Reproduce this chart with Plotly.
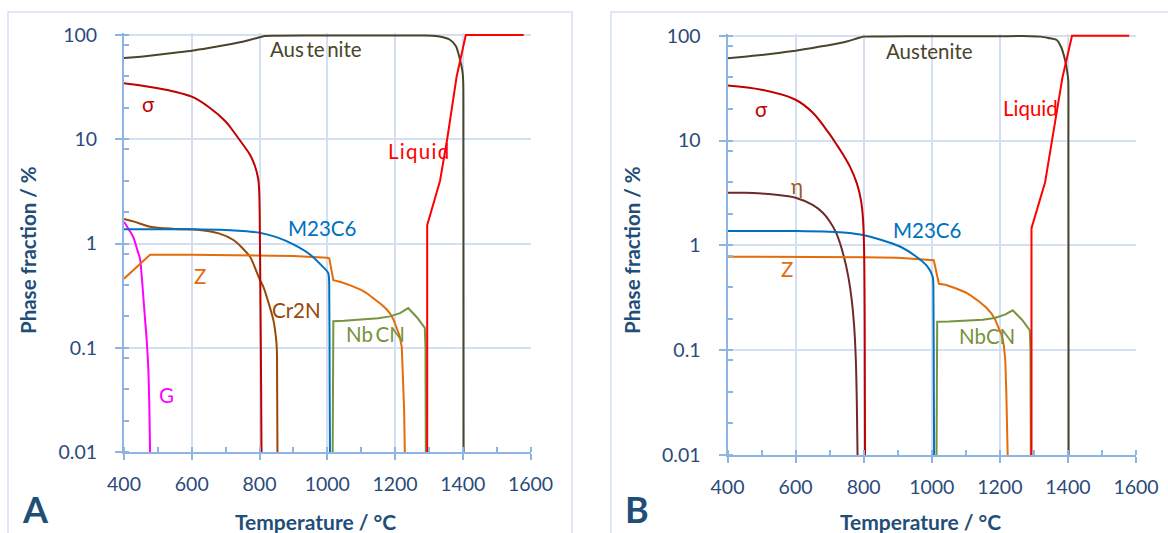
import plotly.graph_objects as go

# ---------------- data (Temperature °C, phase fraction %) ----------------
# Panel A
A_aus_T = [400, 450, 500, 550, 600, 650, 700, 750, 790, 815, 850, 1000, 1200, 1290, 1320, 1342, 1362, 1380, 1392, 1399, 1401.5, 1402, 1402.5]
A_aus_V = [60, 62, 64.5, 67.5, 70.7, 75, 80, 86, 93, 98, 98.5, 99, 99, 99, 98, 95, 90, 78, 58, 45, 35, 10, 0.01]
A_sig_T = [400, 450, 500, 550, 600, 650, 700, 722, 750, 772, 786, 796, 799, 800.5, 802, 804, 806]
A_sig_V = [34.4, 32.8, 30.9, 28.6, 25.6, 20.4, 14.8, 12.0, 9.0, 7.1, 5.6, 4.2, 3.2, 2.0, 0.6, 0.1, 0.01]
A_liq_T = [1295, 1295, 1333, 1354, 1382, 1409, 1580]
A_liq_V = [0.01, 1.5, 4.0, 10, 40, 100, 100]
A_m23_T = [400, 600, 700, 750, 800, 850, 900, 950, 980, 1003, 1006, 1007, 1008]
A_m23_V = [1.37, 1.37, 1.35, 1.32, 1.27, 1.15, 0.98, 0.78, 0.63, 0.52, 0.3, 0.05, 0.01]
A_z_T = [400, 477, 600, 800, 900, 1000, 1006, 1018, 1040, 1070, 1100, 1116, 1140, 1160, 1175, 1185, 1195, 1205, 1213, 1220, 1224, 1227, 1229]
A_z_V = [0.46, 0.78, 0.78, 0.77, 0.76, 0.73, 0.72, 0.445, 0.427, 0.394, 0.359, 0.335, 0.295, 0.26, 0.234, 0.214, 0.188, 0.158, 0.132, 0.102, 0.05, 0.025, 0.01]
A_nb_T = [1016, 1017, 1018, 1050, 1100, 1150, 1185, 1215, 1239, 1265, 1288, 1290, 1291]
A_nb_V = [0.01, 0.1, 0.18, 0.182, 0.187, 0.192, 0.2, 0.215, 0.24, 0.195, 0.155, 0.1, 0.01]
A_cr_T = [400, 430, 477, 550, 624, 680, 723, 750, 772, 790, 801, 812, 821, 841, 848, 851, 852, 853]
A_cr_V = [1.72, 1.62, 1.45, 1.38, 1.35, 1.25, 1.08, 0.9, 0.745, 0.55, 0.45, 0.38, 0.31, 0.184, 0.13, 0.1, 0.05, 0.01]
A_g_T = [400, 415, 427, 440, 447, 452, 457, 462, 467, 472, 475, 477]
A_g_V = [1.62, 1.35, 1.16, 0.85, 0.72, 0.5, 0.31, 0.19, 0.118, 0.06, 0.025, 0.01]

# Panel B
B_aus_T = [400, 450, 500, 550, 600, 650, 700, 750, 780, 800, 850, 1000, 1200, 1290, 1320, 1342, 1367, 1380, 1391.5, 1398, 1401, 1401.5, 1402]
B_aus_V = [60.8, 63, 65.5, 68.5, 72, 76.5, 81.5, 88, 94, 98, 98.5, 99, 99, 99, 98, 95, 91, 78, 58.7, 45, 37.7, 10, 0.01]
B_sig_T = [400, 500, 600, 650, 700, 720, 740, 760, 780, 792, 798, 801, 803, 804]
B_sig_V = [33.5, 30.5, 24.5, 18.5, 11.5, 9.2, 7.3, 5.6, 3.9, 2.7, 1.8, 1.0, 0.2, 0.01]
B_eta_T = [400, 450, 500, 550, 600, 650, 680, 700, 720, 742, 755, 765, 772, 777, 780, 782]
B_eta_V = [3.18, 3.17, 3.12, 3.02, 2.85, 2.43, 2.05, 1.7, 1.3, 0.78, 0.5, 0.3, 0.17, 0.08, 0.03, 0.01]
B_liq_T = [1293, 1293, 1333, 1354, 1384, 1412, 1580]
B_liq_V = [0.01, 1.46, 4.0, 10, 40, 100, 100]
B_m23_T = [400, 600, 700, 750, 801, 850, 908, 950, 987, 1003, 1005, 1006, 1007]
B_m23_V = [1.37, 1.37, 1.35, 1.32, 1.25, 1.13, 0.97, 0.8, 0.63, 0.5, 0.3, 0.05, 0.01]
B_z_T = [400, 600, 800, 900, 1000, 1006, 1021, 1040, 1070, 1100, 1116, 1140, 1160, 1175, 1185, 1195, 1205, 1212, 1216, 1219, 1221, 1223]
B_z_V = [0.78, 0.78, 0.77, 0.76, 0.73, 0.72, 0.43, 0.42, 0.39, 0.355, 0.33, 0.29, 0.255, 0.225, 0.2, 0.17, 0.14, 0.11, 0.08, 0.04, 0.02, 0.01]
B_nb_T = [1014, 1015, 1016, 1050, 1100, 1150, 1185, 1215, 1238, 1265, 1288, 1290, 1291]
B_nb_V = [0.01, 0.1, 0.187, 0.188, 0.19, 0.195, 0.203, 0.218, 0.24, 0.195, 0.155, 0.1, 0.01]

x_ticks = [400, 600, 800, 1000, 1200, 1400, 1600]
x_minor = [400, 500, 600, 700, 800, 900, 1000, 1100, 1200, 1300, 1400, 1500, 1600]
y_ticks = [0.01, 0.1, 1, 10, 100]
y_ticktext = ["0.01", "0.1", "1", "10", "100"]
y_minor = [0.01, 0.02, 0.04, 0.08, 0.1, 0.2, 0.4, 0.8, 1, 2, 4, 8, 10, 20, 40, 80, 100]

C = dict(aus="#4A452A", sig="#C00000", liq="#FF0000", m23="#0070C0", z="#E46C0A",
         nb="#77933C", cr="#984807", g="#FF00FF", eta="#6E2A28")

W, H = 1168, 533
fig = go.Figure()

def add(xs, ys, col, ax, smooth=0):
    ln = dict(color=col, width=2)
    if smooth:
        ln.update(shape="spline", smoothing=smooth)
    fig.add_trace(go.Scatter(x=xs, y=ys, mode="lines", line=ln,
                             xaxis="x" if ax == 1 else "x2", yaxis="y" if ax == 1 else "y2",
                             showlegend=False, hoverinfo="skip"))

add(A_aus_T, A_aus_V, C["aus"], 1, 0.6)
add(A_g_T, A_g_V, C["g"], 1, 1.0)
add(A_cr_T, A_cr_V, C["cr"], 1, 1.0)
add(A_z_T, A_z_V, C["z"], 1)
add(A_m23_T, A_m23_V, C["m23"], 1, 0.6)
add(A_nb_T, A_nb_V, C["nb"], 1)
add(A_sig_T, A_sig_V, C["sig"], 1, 1.0)
add(A_liq_T, A_liq_V, C["liq"], 1)

add(B_aus_T, B_aus_V, C["aus"], 2, 0.6)
add(B_eta_T, B_eta_V, C["eta"], 2, 1.0)
add(B_z_T, B_z_V, C["z"], 2)
add(B_m23_T, B_m23_V, C["m23"], 2, 0.6)
add(B_nb_T, B_nb_V, C["nb"], 2)
add(B_sig_T, B_sig_V, C["sig"], 2, 1.0)
add(B_liq_T, B_liq_V, C["liq"], 2)

AXC = "#8EB4E3"
GRIDC = "#D3E0F1"
TICKC = "#2B4A7B"
FONT = "Lato"

def xax(dom):
    return dict(domain=dom, range=[400, 1600], tickvals=x_ticks, ticks="outside", ticklen=6,
                tickcolor=AXC, tickwidth=2, showline=True, linecolor=AXC, linewidth=2,
                showgrid=True, gridcolor=GRIDC, gridwidth=1.5, zeroline=False, automargin=False,
                tickfont=dict(family=FONT, size=19.5, color=TICKC), ticklabelstandoff=8,
                minor=dict(tickvals=x_minor, ticks="inside", ticklen=5, tickcolor=AXC, tickwidth=1.5, showgrid=False))

def yax(dom, top_extra):
    return dict(domain=dom, type="log", range=[-2, 2 + top_extra], tickvals=y_ticks, ticktext=y_ticktext,
                ticks="outside", ticklen=7, tickcolor=AXC, tickwidth=2, showline=True, linecolor=AXC,
                linewidth=2, showgrid=True, gridcolor=GRIDC, gridwidth=1.5, zeroline=False, automargin=False,
                tickfont=dict(family=FONT, size=19.5, color=TICKC), ticklabelstandoff=14,
                minor=dict(tickvals=y_minor, ticks="inside", ticklen=5, tickcolor=AXC, tickwidth=1.5, showgrid=False))

ext = 0.02
# Panel A: x 124..530.5 px, y 35(100)..452(0.01)
a_dec = (452 - 35) / 4.0
a_top = 35 - ext * a_dec
# Panel B: x 727.5..1136 px, y 35.7..455
b_dec = (455 - 35.7) / 4.0
b_top = 35.7 - ext * b_dec

fig.update_layout(
    width=W, height=H, margin=dict(l=0, r=0, t=0, b=0, pad=0, autoexpand=False),
    paper_bgcolor="white", plot_bgcolor="white",
    xaxis=dict(xax([124 / W, 530.5 / W]), anchor="y"),
    yaxis=dict(yax([1 - 452 / H, 1 - a_top / H], ext), anchor="x"),
    xaxis2=dict(xax([727.5 / W, 1136 / W]), anchor="y2"),
    yaxis2=dict(yax([1 - 455 / H, 1 - b_top / H], ext), anchor="x2"),
)

# panel frames
BORD = "#D5E1F1"
fig.add_shape(type="rect", xref="paper", yref="paper", x0=8 / W, x1=572 / W, y0=-0.05, y1=1 - 12 / H,
              line=dict(color=BORD, width=1.5), layer="below")
fig.add_shape(type="rect", xref="paper", yref="paper", x0=611 / W, x1=1.05, y0=-0.05, y1=1 - 12 / H,
              line=dict(color=BORD, width=1.5), layer="below")

def lab(text, px, py, col, size=20.5, bold=False, angle=0, fam=FONT):
    fig.add_annotation(text=("<b>%s</b>" % text) if bold else text, x=px / W, y=1 - py / H,
                       xref="paper", yref="paper", showarrow=False, textangle=angle,
                       font=dict(family=fam, size=size, color=col), xanchor="center", yanchor="middle")

# Panel A labels
lab("Aus\u2009te\u2009nite", 316, 49, C["aus"])
lab("σ", 148, 104, C["sig"])
lab("L\u200ai\u200aq\u200au\u200ai\u200ad", 418, 151, C["liq"])
lab("M23C6", 322, 228, C["m23"])
lab("Z", 200, 276, C["z"])
lab("Cr2N", 296.5, 310, C["cr"])
lab("Nb\u2009CN", 375, 334, C["nb"])
lab("G", 166, 395, C["g"])
# Panel B labels
lab("Austenite", 929, 51, C["aus"])
lab("σ", 761, 109, C["sig"])
lab("η", 797, 186, "#A0581E")
lab("Liquid", 1030, 108, C["liq"])
lab("M23C6", 927, 230, C["m23"])
lab("Z", 787, 269, C["z"])
lab("NbCN", 987, 336, C["nb"])

TITLEC = "#1F4E79"
lab("Temperature / °C", 315, 521, TITLEC, size=21, bold=True)
lab("Temperature / °C", 920, 521, TITLEC, size=21, bold=True)
lab("Phase fraction / %", 28, 250, TITLEC, size=20.5, bold=True, angle=-90)
lab("Phase fraction / %", 632, 250, TITLEC, size=20.5, bold=True, angle=-90)
lab("A", 35, 509, TITLEC, size=36, bold=True)
lab("B", 637, 509, TITLEC, size=36, bold=True)

fig.write_html("out.html")
